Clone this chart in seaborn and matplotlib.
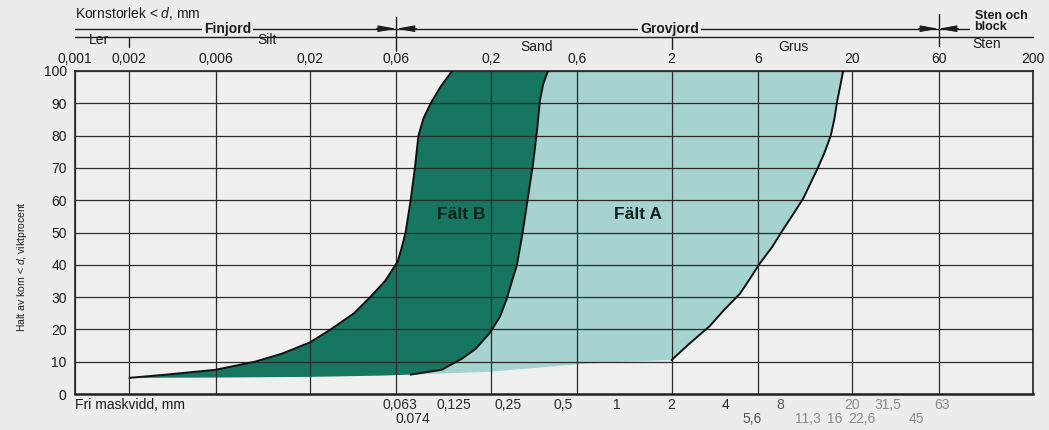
import matplotlib.pyplot as plt
import matplotlib.transforms as mtransforms
from matplotlib.ticker import NullLocator
from matplotlib import font_manager
import seaborn as sns

# grain size axis (mm) with the printed labels
grid_sizes = [0.001, 0.002, 0.006, 0.02, 0.06, 0.2, 0.6, 2, 6, 20, 60, 200]
grid_labels = ["0,001", "0,002", "0,006", "0,02", "0,06", "0,2", "0,6", "2", "6", "20", "60", "200"]
pct_ticks = [0, 10, 20, 30, 40, 50, 60, 70, 80, 90, 100]

# sieve openings printed under the chart
sieve_row1 = [0.063, 0.125, 0.25, 0.5, 1, 2, 4, 8, 20, 31.5, 63]
sieve_row1_labels = ["0,063", "0,125", "0,25", "0,5", "1", "2", "4", "8", "20", "31,5", "63"]
sieve_row2 = [0.074, 5.6, 11.3, 16, 22.6, 45]
sieve_row2_labels = ["0.074", "5,6", "11,3", "16", "22,6", "45"]

# Fält B, left (fine) boundary
b_left_d = [0.002, 0.0032, 0.006, 0.0099, 0.014, 0.02, 0.026, 0.035, 0.043, 0.052,
            0.061, 0.064, 0.0675, 0.072, 0.076, 0.0795, 0.085, 0.093, 0.105, 0.122]
b_left_p = [5, 6, 7.5, 10, 12.5, 16, 20, 25, 30, 35,
            41, 45, 50, 60, 70, 80, 85.5, 90, 95, 100]
# Fält B, right boundary (left edge of Fält A)
b_right_d = [0.072, 0.107, 0.139, 0.165, 0.198, 0.225, 0.245, 0.262, 0.279, 0.30,
             0.32, 0.342, 0.36, 0.374, 0.39, 0.414]
b_right_p = [6, 7.5, 11, 14, 19, 24, 29.5, 35, 40, 50,
             60.5, 71, 81.5, 91, 96, 100]
# Fält B lower edge
b_bottom_d = [0.002, 0.006, 0.02, 0.05, 0.072]
b_bottom_p = [5, 5.1, 5.3, 5.7, 6]
# Fält A, right (coarse) boundary
a_right_d = [2.0, 2.5, 3.25, 3.9, 4.77, 5.4, 6.15, 7.2, 8.3, 9.5,
             10.7, 11.8, 12.9, 14.1, 15.2, 15.9, 16.5, 17.1, 17.8]
a_right_p = [10.5, 15.5, 21, 26, 31, 35.5, 40.4, 45.5, 51, 56,
             60.5, 65.5, 70, 75, 80, 85, 90.7, 95, 100]
# Fält A lower edge
a_bottom_d = [0.072, 0.2, 0.6, 1.0, 2.0]
a_bottom_p = [6, 6.9, 9.2, 9.9, 10.5]

BG = "#ececec"
DARK = "#17765f"
LIGHT = "#a6d2cf"
INK = "#1c1c1c"

sns.set_theme(style="white")
plt.rcParams["font.family"] = ["Liberation Sans", "DejaVu Sans"]
plt.rcParams["mathtext.fontset"] = "custom"
plt.rcParams["mathtext.it"] = "Liberation Sans:italic"
plt.rcParams["mathtext.rm"] = "Liberation Sans"

installed = {f.name for f in font_manager.fontManager.ttflist}
narrow = "Liberation Sans Narrow" if "Liberation Sans Narrow" in installed else "Liberation Sans"

W, H = 1049, 430
fig = plt.figure(figsize=(W / 100, H / 100), dpi=100, facecolor=BG)
ax = fig.add_axes([75 / W, (H - 394) / H, 958 / W, 323 / H])
ax.set_facecolor("#efefef")
ax.set_xscale("log")
ax.set_xlim(0.001, 200)
ax.set_ylim(0, 100)


def fy(py):
    return 1 - py / H


trans = mtransforms.blended_transform_factory(ax.transData, fig.transFigure)

# fields
ax.fill(a_bottom_d + a_right_d + b_right_d[::-1],
        a_bottom_p + a_right_p + b_right_p[::-1],
        color=LIGHT, lw=0, zorder=1)
ax.fill(b_left_d + b_right_d[::-1] + b_bottom_d[::-1],
        b_left_p + b_right_p[::-1] + b_bottom_p[::-1],
        color=DARK, lw=0, zorder=1.2)

for xd, yp in [(b_left_d, b_left_p), (b_right_d, b_right_p), (a_right_d, a_right_p)]:
    sns.lineplot(x=xd, y=yp, ax=ax, color="#111111", lw=1.4, sort=False,
                 estimator=None, zorder=3)

ax.text(0.137, 55.5, "Fält B", ha="center", va="center", fontsize=12.5,
        fontweight="bold", color="#10201b", zorder=4)
ax.text(1.31, 55.5, "Fält A", ha="center", va="center", fontsize=12.5,
        fontweight="bold", color="#10201b", zorder=4)

# grid and axes
ax.set_xticks(grid_sizes, grid_labels)
ax.xaxis.set_minor_locator(NullLocator())
ax.set_yticks(pct_ticks)
ax.xaxis.set_ticks_position("top")
ax.tick_params(axis="x", length=0, pad=3.5, labelsize=10, labelcolor=INK)
ax.tick_params(axis="y", length=0, pad=6, labelsize=10, labelcolor=INK)
ax.grid(True, color="#2b2b2b", lw=0.9)
ax.set_axisbelow(False)
for side, sp in ax.spines.items():
    sp.set_color("#222222")
    sp.set_linewidth(1.2)
ax.spines["bottom"].set_linewidth(1.8)
ax.set_xlabel("")
ax.set_ylabel("")

# sieve openings
for rows, labels, py in [(sieve_row1, sieve_row1_labels, 405), (sieve_row2, sieve_row2_labels, 419)]:
    for v, lab in zip(rows, labels):
        col = "#2a2a2a" if v < 5 else ("#555555" if v < 10 else "#8a8a8a")
        ax.text(v, fy(py), lab, transform=trans, ha="center", va="center",
                fontsize=10, color=col)
ax.text(0.001, fy(405), "Fri maskvidd, mm", transform=trans, ha="left",
        va="center", fontsize=10, color=INK)

fig.text(22 / W, fy(267), r"Halt av korn < $d$, viktprocent", rotation=90,
         ha="center", va="center", fontsize=7.5, color=INK, family=narrow)

# header: soil classes
ax.text(0.001, fy(14), r"Kornstorlek < $d$, mm", transform=trans, ha="left",
        va="center", fontsize=10, color=INK)
ax.plot([0.001, 89], [fy(28.7)] * 2, transform=trans, clip_on=False, color=INK, lw=1)
ax.plot([0.001, 200], [fy(36.5)] * 2, transform=trans, clip_on=False, color=INK,
        lw=1, zorder=5)
box = dict(facecolor=BG, edgecolor="none", pad=1.5)
ax.text(0.007, fy(28.7), "Finjord", transform=trans, ha="center", va="center",
        fontsize=10, fontweight="bold", color=INK, bbox=box)
ax.text(1.95, fy(28.7), "Grovjord", transform=trans, ha="center", va="center",
        fontsize=10, fontweight="bold", color=INK, bbox=box)
ax.text(95, fy(21.5), "Sten och\nblock", transform=trans, ha="left", va="center",
        fontsize=9, fontweight="bold", color=INK, linespacing=0.8)

for v, y0, y1 in [(0.002, 36.5, 47), (0.06, 17, 51), (2, 36.5, 49), (60, 13.5, 45.6)]:
    ax.plot([v, v], [fy(y0), fy(y1)], transform=trans, clip_on=False, color=INK, lw=1)

for v in [0.06, 60]:
    for k in [1 / 1.29, 1.29]:
        ax.annotate("", xy=(v, fy(28.7)), xytext=(v * k, fy(28.7)),
                    xycoords=trans, textcoords=trans, annotation_clip=False,
                    arrowprops=dict(arrowstyle="-|>,head_length=1.1,head_width=0.2",
                                    color=INK, lw=0.8, shrinkA=0, shrinkB=0,
                                    mutation_scale=10))

for name, v, py in [("Ler", 0.00136, 40.5), ("Silt", 0.0116, 40.5), ("Sand", 0.356, 47),
                    ("Grus", 9.4, 47), ("Sten", 111, 44)]:
    ax.text(v, fy(py), name, transform=trans, ha="center", va="center",
            fontsize=10, color=INK)

fig.savefig("out.png", dpi=100, facecolor=BG)
